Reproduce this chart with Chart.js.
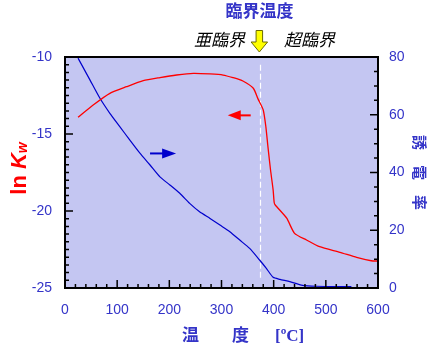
<!DOCTYPE html>
<html><head><meta charset="utf-8">
<script src="https://cdn.jsdelivr.net/npm/chart.js@4.4.0/dist/chart.umd.min.js"></script>
<style>html,body{margin:0;padding:0;background:#fff;}#wrap{width:432px;height:355px;position:relative;}</style>
</head><body><div id="wrap"><canvas id="c"></canvas></div>
<script>
// ---- data ----
const redT    = [25, 54, 86, 118, 150, 182, 214, 246, 278, 303, 322, 341, 361, 370, 380, 385, 389, 394, 399, 401, 403, 425, 440, 463, 488, 527, 559, 587, 600];
const redLnKw = [-13.92, -13.12, -12.36, -11.93, -11.54, -11.34, -11.17, -11.06, -11.10, -11.17, -11.34, -11.56, -12.03, -12.72, -13.44, -14.52, -15.82, -17.34, -18.64, -19.45, -19.61, -20.47, -21.45, -21.88, -22.32, -22.68, -23.01, -23.23, -23.25];
const blueT   = [25, 48, 67, 86, 105, 124, 144, 163, 182, 201, 220, 239, 258, 278, 297, 316, 335, 354, 373, 386, 399, 412, 431, 453, 482, 549];
const blueEps = [79.6, 72.0, 65.7, 60.5, 55.9, 51.3, 46.6, 42.6, 38.5, 35.7, 32.8, 29.3, 26.4, 24.1, 21.8, 19.5, 16.6, 13.7, 9.7, 6.8, 3.7, 3.0, 2.2, 1.0, 0.6, 0.45];
const xRange = [0, 600], xMajor = 100, xMinor = 20;
const yRange = [-25, -10], yMajor = 5, yMinor = 0.5;
const y2Range = [0, 80], y2Major = 20, y2Minor = 5;
const criticalT = 373;
const criticalSpan = [-10.5, -24.5];
const redArrow = {from: 356, to: 312, y: -13.79};   // points left, toward left axis
const blueArrow = {from: 163, to: 213, y: 46.6};    // points right, toward right axis
const titleTop = '臨界温度', subLeft = '亜臨界', subRight = '超臨界';
const xTitleParts = ['温', '度', '[ºC]'];
const y2Title = '誘　電　率';

const BG = 'rgb(196,198,242)';
const TXT = '#3434C8';
const CJK = '"Noto Sans CJK JP", "Noto Sans CJK SC", sans-serif';
const SANS = '"Liberation Sans", Arial, sans-serif';

const zip = (a, b) => a.map((v, i) => ({x: v, y: b[i]}));

function range(a, b, s) { const r = []; for (let v = a; v <= b + 1e-9; v += s) r.push(+v.toFixed(6)); return r; }
function isMajor(v, m) { return Math.abs(v / m - Math.round(v / m)) < 1e-6; }

function drawArrow(ctx, x1, y, x2, color, headLen, halfH) {
  const dir = Math.sign(x2 - x1);
  ctx.save();
  ctx.strokeStyle = color; ctx.fillStyle = color; ctx.lineWidth = 2;
  ctx.beginPath(); ctx.moveTo(x1, y); ctx.lineTo(x2 - dir * headLen * 0.5, y); ctx.stroke();
  ctx.beginPath();
  ctx.moveTo(x2, y);
  ctx.lineTo(x2 - dir * headLen, y - halfH);
  ctx.lineTo(x2 - dir * headLen, y + halfH);
  ctx.closePath(); ctx.fill();
  ctx.restore();
}

const deco = {
  id: 'deco',
  beforeDraw(chart) {
    const {ctx, chartArea: a} = chart;
    ctx.save(); ctx.fillStyle = BG;
    ctx.fillRect(a.left, a.top, a.right - a.left, a.bottom - a.top);
    ctx.restore();
  },
  beforeDatasetsDraw(chart) {
    const {ctx, scales} = chart;
    const x = Math.round(scales.x.getPixelForValue(criticalT)) + 0.5;
    ctx.save();
    ctx.strokeStyle = '#ffffff'; ctx.lineWidth = 1.2; ctx.setLineDash([6, 3]);
    ctx.beginPath();
    ctx.moveTo(x, scales.y.getPixelForValue(criticalSpan[0]));
    ctx.lineTo(x, scales.y.getPixelForValue(criticalSpan[1]));
    ctx.stroke();
    ctx.restore();
  },
  afterDatasetsDraw(chart) {
    const {ctx, chartArea: a, scales} = chart;
    ctx.save();
    ctx.strokeStyle = '#000'; ctx.lineWidth = 1.5;
    ctx.beginPath();
    range(xRange[0], xRange[1], xMinor).forEach(v => {
      const px = scales.x.getPixelForValue(v), L = isMajor(v, xMajor) ? 8 : 4;
      ctx.moveTo(px, a.bottom); ctx.lineTo(px, a.bottom - L);
    });
    range(yRange[0], yRange[1], yMinor).forEach(v => {
      const py = scales.y.getPixelForValue(v), L = isMajor(v, yMajor) ? 8 : 4;
      ctx.moveTo(a.left, py); ctx.lineTo(a.left + L, py);
    });
    range(y2Range[0], y2Range[1], y2Minor).forEach(v => {
      const py = scales.y2.getPixelForValue(v), L = isMajor(v, y2Major) ? 8 : 4;
      ctx.moveTo(a.right, py); ctx.lineTo(a.right - L, py);
    });
    ctx.stroke();
    ctx.lineWidth = 2;
    ctx.strokeRect(a.left, a.top, a.right - a.left, a.bottom - a.top);
    ctx.restore();

    drawArrow(ctx, scales.x.getPixelForValue(redArrow.from), scales.y.getPixelForValue(redArrow.y),
      scales.x.getPixelForValue(redArrow.to), '#ff0000', 13, 5);
    drawArrow(ctx, scales.x.getPixelForValue(blueArrow.from), scales.y2.getPixelForValue(blueArrow.y),
      scales.x.getPixelForValue(blueArrow.to), '#0000cc', 14, 5);
  },
  afterDraw(chart) {
    const {ctx, chartArea: a, scales} = chart;
    const cx = scales.x.getPixelForValue(criticalT);
    ctx.save();
    // top title
    ctx.fillStyle = TXT; ctx.font = 'bold 17px ' + CJK;
    ctx.textAlign = 'center'; ctx.textBaseline = 'middle';
    ctx.fillText(titleTop, cx, 11);
    // sub labels
    ctx.fillStyle = '#000'; ctx.font = 'italic 17px ' + CJK;
    ctx.fillText(subLeft, cx - 40, 40);
    ctx.fillText(subRight, cx + 50, 40);
    // yellow arrow
    ctx.fillStyle = '#ffff00'; ctx.strokeStyle = '#6b6b00'; ctx.lineWidth = 1;
    ctx.beginPath();
    ctx.moveTo(cx - 3.5, 30.5); ctx.lineTo(cx + 3, 30.5); ctx.lineTo(cx + 3, 42);
    ctx.lineTo(cx + 8, 42); ctx.lineTo(cx - 0.25, 52); ctx.lineTo(cx - 8.5, 42);
    ctx.lineTo(cx - 3.5, 42); ctx.closePath(); ctx.fill(); ctx.stroke();
    // x title
    ctx.fillStyle = TXT; ctx.textAlign = 'left';
    ctx.font = 'bold 17px ' + CJK; ctx.textBaseline = 'middle';
    ctx.fillText(xTitleParts[0], 182, 335);
    ctx.fillText(xTitleParts[1], 232, 335);
    ctx.font = 'bold 17px "Liberation Serif", "Times New Roman", serif'; ctx.textBaseline = 'alphabetic';
    ctx.fillText(xTitleParts[2], 275, 341);
    // left title ln Kw
    ctx.translate(26, (a.top + a.bottom) / 2 - 4);
    ctx.rotate(-Math.PI / 2);
    ctx.fillStyle = '#ff0000'; ctx.textBaseline = 'alphabetic';
    const f1 = 'bold 22px ' + SANS, f2 = 'bold italic 22px ' + SANS, f3 = 'bold italic 14px ' + SANS;
    ctx.font = f1; const w1 = ctx.measureText('ln ').width;
    ctx.font = f2; const w2 = ctx.measureText('K').width;
    ctx.font = f3; const w3 = ctx.measureText('w').width;
    let sx = -(w1 + w2 + w3) / 2;
    ctx.font = f1; ctx.fillText('ln ', sx, 0); sx += w1;
    ctx.font = f2; ctx.fillText('K', sx, 0); sx += w2;
    ctx.font = f3; ctx.fillText('w', sx, 1);
    ctx.restore();
  }
};

new Chart(document.getElementById('c'), {
  type: 'line',
  data: {
    datasets: [
      {data: zip(redT, redLnKw), yAxisID: 'y', borderColor: '#ff0000', borderWidth: 1.3, pointRadius: 0, tension: 0.2, fill: false},
      {data: zip(blueT, blueEps), yAxisID: 'y2', borderColor: '#0000cc', borderWidth: 1.2, pointRadius: 0, tension: 0.2, fill: false}
    ]
  },
  options: {
    responsive: true, maintainAspectRatio: false, animation: false, events: [],
    layout: {padding: {top: 57, left: 0, right: 0, bottom: 0}},
    plugins: {legend: {display: false}, tooltip: {enabled: false}},
    scales: {
      x: {
        type: 'linear', position: 'bottom', min: xRange[0], max: xRange[1],
        grid: {display: false, drawTicks: false}, border: {display: false},
        ticks: {stepSize: xMajor, color: TXT, font: {family: SANS, size: 14}, padding: 14, maxRotation: 0},
        afterFit(s) { s.height = 67; }
      },
      y: {
        type: 'linear', position: 'left', min: yRange[0], max: yRange[1],
        grid: {display: false, drawTicks: false}, border: {display: false},
        ticks: {stepSize: yMajor, color: TXT, font: {family: SANS, size: 14}, padding: 13},
        afterFit(s) { s.width = 65; }
      },
      y2: {
        type: 'linear', position: 'right', min: y2Range[0], max: y2Range[1],
        grid: {display: false, drawTicks: false}, border: {display: false},
        ticks: {stepSize: y2Major, color: TXT, font: {family: SANS, size: 14}, padding: 11},
        title: {display: true, text: y2Title, color: TXT, font: {family: CJK, size: 15, weight: 'bold'}, padding: {top: 3, bottom: 0}},
        afterFit(s) { s.width = 54; }
      }
    }
  },
  plugins: [deco]
});
</script>
</body></html>
